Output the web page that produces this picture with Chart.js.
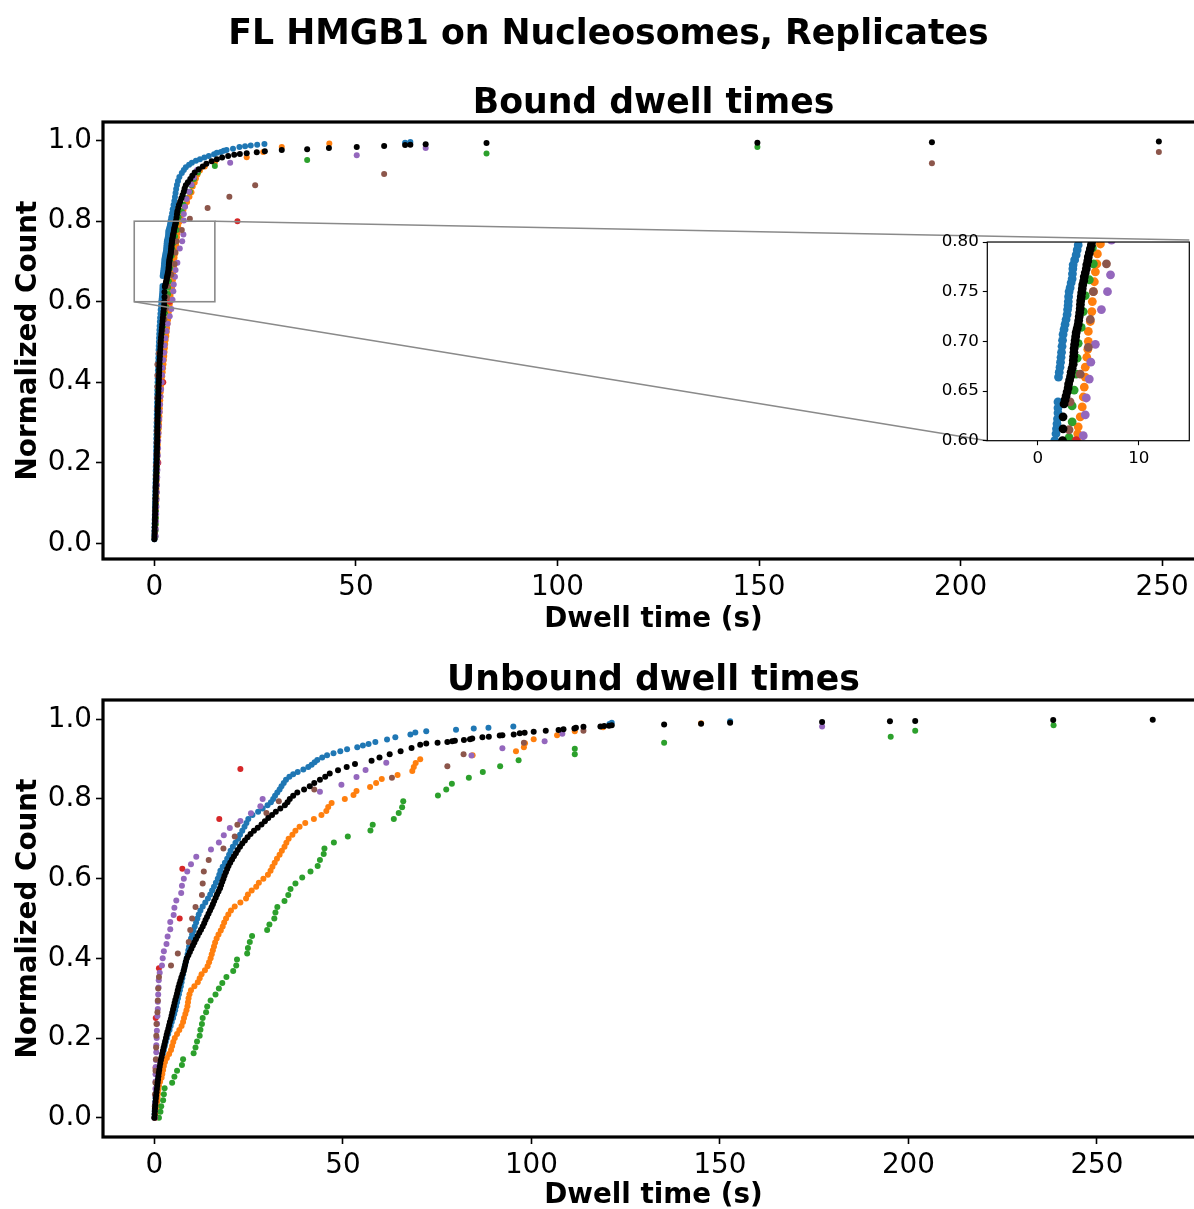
<!DOCTYPE html>
<html>
<head>
<meta charset="utf-8">
<script src="https://cdn.jsdelivr.net/npm/chart.js@4.4.1/dist/chart.umd.min.js"></script>
<style>
html,body{margin:0;padding:0;background:#fff;overflow:hidden;}
#page{position:relative;width:1194px;height:1209px;overflow:hidden;background:#fff;}
canvas{position:absolute;}
</style>
</head>
<body>
<div id="page">
<canvas id="c1" width="1210" height="640" style="left:0;top:0;"></canvas>
<canvas id="c2" width="1210" height="569" style="left:0;top:640px;"></canvas>
<canvas id="c3" width="264" height="247" style="left:930px;top:228px;"></canvas>
</div>
<script>
// ---------------- DATA ----------------
const seriesNames = ['Replicate 1','Replicate 2','Replicate 3','Replicate 4','Replicate 5','Replicate 6','All'];
const seriesColors = ['#1f77b4','#ff7f0e','#2ca02c','#d62728','#9467bd','#8c564b','#000000'];
const xTickValues = [0,50,100,150,200,250];
const yTickValues = [0,0.2,0.4,0.6,0.8,1.0];
const insetXTicks = [0,10];
const insetYTicks = [0.60,0.65,0.70,0.75,0.80];
const insetXRange = [-5,15];
const insetYRange = [0.6,0.8];

// Bound dwell times [dwell time (s), normalized count]
const boundBlue = [[0.0,0.010],[0.0,0.020],[0.02,0.030],[0.04,0.040],[0.06,0.050],[0.08,0.060],[0.1,0.070],[0.12,0.080],[0.14,0.090],[0.16,0.100],[0.18,0.110],[0.2,0.120],[0.22,0.130],[0.24,0.140],[0.26,0.150],[0.28,0.160],[0.3,0.170],[0.32,0.180],[0.34,0.190],[0.36,0.200],[0.38,0.210],[0.4,0.220],[0.42,0.230],[0.44,0.240],[0.46,0.250],[0.48,0.260],[0.5,0.270],[0.52,0.280],[0.54,0.290],[0.56,0.300],[0.58,0.310],[0.6,0.320],[0.62,0.330],[0.64,0.340],[0.66,0.350],[0.68,0.360],[0.7,0.370],[0.73,0.380],[0.76,0.390],[0.79,0.400],[0.82,0.410],[0.85,0.420],[0.88,0.430],[0.91,0.440],[0.94,0.450],[0.97,0.460],[1.0,0.470],[1.04,0.480],[1.08,0.490],[1.12,0.500],[1.16,0.510],[1.2,0.520],[1.25,0.530],[1.3,0.540],[1.36,0.550],[1.42,0.560],[1.5,0.570],[1.56,0.580],[1.62,0.590],[1.68,0.600],[1.8,0.607],[1.85,0.612],[1.9,0.617],[1.95,0.622],[2.0,0.628],[2.0,0.633],[2.0,0.639],[2.05,0.664],[2.12,0.669],[2.2,0.674],[2.25,0.679],[2.3,0.684],[2.35,0.689],[2.4,0.695],[2.45,0.701],[2.5,0.707],[2.6,0.712],[2.7,0.717],[2.8,0.722],[2.9,0.727],[2.95,0.732],[3.0,0.736],[3.02,0.740],[3.05,0.745],[3.1,0.750],[3.2,0.754],[3.3,0.759],[3.4,0.763],[3.43,0.768],[3.47,0.773],[3.5,0.777],[3.65,0.782],[3.8,0.787],[3.9,0.792],[4.0,0.797],[4.05,0.802],[4.2,0.810],[4.4,0.820],[4.55,0.830],[4.75,0.840],[4.95,0.850],[5.1,0.860],[5.25,0.870],[5.4,0.880],[5.6,0.890],[5.85,0.900],[6.2,0.910],[6.8,0.920],[7.3,0.927],[7.8,0.934],[8.6,0.940],[9.3,0.945],[10.3,0.950],[11.3,0.954],[12.4,0.958],[13.5,0.962],[14.8,0.966],[15.5,0.970],[16.5,0.972],[17.2,0.975],[17.9,0.977],[19.5,0.980],[21.1,0.984],[22.5,0.986],[23.9,0.988],[25.5,0.990],[27.3,0.992],[62.2,0.995],[63.5,0.997]];
const boundOrange = [[0.1,0.015],[0.15,0.025],[0.2,0.035],[0.25,0.045],[0.3,0.055],[0.33,0.065],[0.36,0.075],[0.4,0.085],[0.42,0.095],[0.45,0.105],[0.48,0.115],[0.5,0.125],[0.52,0.135],[0.54,0.145],[0.56,0.155],[0.58,0.165],[0.6,0.175],[0.63,0.185],[0.66,0.195],[0.7,0.205],[0.73,0.215],[0.76,0.225],[0.8,0.235],[0.85,0.245],[0.9,0.255],[0.97,0.265],[1.03,0.275],[1.1,0.285],[1.15,0.295],[1.2,0.305],[1.25,0.315],[1.3,0.325],[1.35,0.335],[1.4,0.345],[1.45,0.355],[1.5,0.365],[1.55,0.375],[1.65,0.385],[1.75,0.395],[1.85,0.405],[1.95,0.415],[2.05,0.425],[2.15,0.435],[2.25,0.445],[2.35,0.455],[2.45,0.465],[2.52,0.475],[2.6,0.485],[2.68,0.495],[2.8,0.505],[2.95,0.515],[3.05,0.525],[3.15,0.535],[3.25,0.545],[3.4,0.555],[3.5,0.565],[3.6,0.575],[3.7,0.585],[3.8,0.593],[3.9,0.600],[3.95,0.607],[4.0,0.614],[4.2,0.624],[4.4,0.634],[4.5,0.644],[4.6,0.654],[4.7,0.664],[4.7,0.674],[4.85,0.684],[4.95,0.692],[5.0,0.700],[5.0,0.710],[5.2,0.720],[5.35,0.730],[5.4,0.740],[5.5,0.750],[5.6,0.760],[5.7,0.770],[5.85,0.778],[5.9,0.788],[6.2,0.798],[6.5,0.808],[6.85,0.818],[7.2,0.828],[7.6,0.838],[8.1,0.848],[8.7,0.861],[9.2,0.872],[9.5,0.886],[10.0,0.896],[10.3,0.906],[10.7,0.916],[11.3,0.926],[12.5,0.936],[15.0,0.946],[22.9,0.959],[27.0,0.972],[31.6,0.984],[43.4,0.993]];
const boundGreen = [[0.25,0.016],[0.3,0.032],[0.35,0.048],[0.38,0.063],[0.4,0.079],[0.42,0.095],[0.45,0.111],[0.5,0.127],[0.52,0.143],[0.55,0.159],[0.6,0.175],[0.63,0.190],[0.68,0.206],[0.7,0.222],[0.74,0.238],[0.78,0.254],[0.8,0.270],[0.83,0.286],[0.86,0.302],[0.9,0.317],[0.92,0.333],[0.95,0.349],[0.97,0.365],[1.0,0.381],[1.05,0.397],[1.15,0.413],[1.25,0.429],[1.35,0.444],[1.5,0.460],[1.6,0.476],[1.75,0.492],[1.9,0.508],[2.05,0.524],[2.2,0.540],[2.45,0.556],[2.65,0.571],[2.9,0.587],[3.1,0.603],[3.4,0.619],[3.4,0.635],[3.6,0.651],[3.8,0.667],[3.9,0.683],[4.0,0.698],[4.3,0.714],[4.5,0.730],[4.7,0.746],[5.1,0.762],[5.5,0.778],[5.4,0.794],[6.0,0.810],[6.8,0.825],[7.2,0.841],[7.8,0.857],[8.8,0.873],[9.2,0.889],[9.8,0.905],[10.8,0.921],[15.0,0.937],[37.9,0.952],[82.4,0.968],[149.6,0.984]];
const boundRed = [[0.97,0.2],[2.2,0.4],[3.8,0.6],[20.6,0.8]];
const boundPurple = [[0.3,0.018],[0.35,0.036],[0.4,0.055],[0.45,0.073],[0.5,0.091],[0.55,0.109],[0.6,0.127],[0.65,0.145],[0.7,0.164],[0.75,0.182],[0.8,0.200],[0.85,0.218],[0.9,0.236],[0.95,0.255],[1.0,0.273],[1.1,0.291],[1.2,0.309],[1.3,0.327],[1.4,0.345],[1.5,0.364],[1.65,0.382],[1.8,0.400],[1.9,0.418],[2.0,0.436],[2.2,0.455],[2.4,0.473],[2.5,0.491],[2.7,0.509],[3.0,0.527],[3.3,0.545],[3.8,0.564],[4.2,0.582],[4.5,0.605],[4.7,0.626],[4.8,0.643],[5.1,0.662],[5.25,0.679],[5.7,0.697],[6.3,0.732],[6.9,0.750],[7.2,0.767],[7.3,0.802],[7.3,0.818],[7.6,0.836],[8.0,0.855],[8.6,0.873],[9.2,0.891],[9.8,0.909],[10.6,0.927],[18.8,0.945],[50.2,0.964],[67.3,0.982]];
const boundBrown = [[0.1,0.028],[0.15,0.056],[0.2,0.083],[0.25,0.111],[0.3,0.139],[0.35,0.167],[0.4,0.194],[0.5,0.222],[0.56,0.250],[0.62,0.278],[0.66,0.306],[0.7,0.333],[0.73,0.361],[0.75,0.389],[0.75,0.417],[0.75,0.444],[1.1,0.472],[1.5,0.500],[2.0,0.528],[2.4,0.556],[2.8,0.583],[3.1,0.611],[3.2,0.639],[4.2,0.667],[5.0,0.694],[5.2,0.722],[5.5,0.750],[6.8,0.778],[8.8,0.806],[13.2,0.833],[18.6,0.861],[25.0,0.889],[57.0,0.917],[192.9,0.944],[249.2,0.972]];
const boundBlack = [[0.0,0.010],[0.02,0.016],[0.04,0.024],[0.06,0.032],[0.08,0.040],[0.1,0.048],[0.13,0.056],[0.15,0.064],[0.18,0.072],[0.2,0.080],[0.22,0.088],[0.24,0.096],[0.26,0.104],[0.28,0.112],[0.3,0.120],[0.32,0.128],[0.34,0.136],[0.36,0.144],[0.38,0.152],[0.41,0.160],[0.44,0.168],[0.47,0.176],[0.5,0.184],[0.53,0.192],[0.56,0.200],[0.58,0.208],[0.6,0.216],[0.62,0.224],[0.64,0.232],[0.66,0.240],[0.68,0.248],[0.7,0.256],[0.71,0.264],[0.72,0.272],[0.73,0.280],[0.75,0.288],[0.77,0.296],[0.79,0.304],[0.81,0.312],[0.83,0.320],[0.85,0.328],[0.87,0.336],[0.89,0.344],[0.92,0.352],[0.95,0.360],[0.98,0.368],[1.0,0.376],[1.03,0.384],[1.06,0.392],[1.09,0.400],[1.12,0.408],[1.15,0.416],[1.18,0.424],[1.2,0.432],[1.22,0.440],[1.25,0.448],[1.3,0.456],[1.35,0.464],[1.4,0.472],[1.45,0.480],[1.5,0.488],[1.55,0.496],[1.6,0.504],[1.65,0.512],[1.72,0.520],[1.8,0.528],[1.88,0.536],[1.95,0.544],[2.02,0.552],[2.1,0.560],[2.18,0.568],[2.26,0.576],[2.34,0.584],[2.42,0.592],[2.45,0.600],[2.5,0.612],[2.5,0.624],[2.6,0.637],[2.7,0.641],[2.8,0.645],[2.9,0.649],[3.0,0.653],[3.05,0.657],[3.15,0.661],[3.25,0.665],[3.3,0.669],[3.4,0.673],[3.5,0.677],[3.52,0.681],[3.55,0.685],[3.58,0.689],[3.6,0.693],[3.65,0.697],[3.7,0.701],[3.75,0.705],[3.8,0.709],[3.9,0.713],[4.0,0.717],[4.05,0.721],[4.1,0.725],[4.15,0.729],[4.2,0.733],[4.22,0.737],[4.25,0.741],[4.3,0.745],[4.35,0.749],[4.4,0.753],[4.45,0.757],[4.55,0.761],[4.6,0.765],[4.7,0.769],[4.8,0.773],[4.85,0.777],[4.95,0.781],[5.0,0.785],[5.1,0.789],[5.2,0.793],[5.3,0.797],[5.35,0.801],[5.5,0.809],[5.6,0.817],[5.7,0.825],[5.9,0.833],[6.1,0.841],[6.4,0.849],[6.7,0.857],[7.0,0.865],[7.3,0.873],[7.5,0.881],[7.8,0.889],[8.3,0.897],[8.9,0.905],[9.4,0.913],[10.0,0.921],[11.0,0.929],[12.0,0.936],[12.9,0.943],[14.2,0.949],[15.5,0.954],[16.8,0.958],[18.3,0.962],[19.8,0.965],[21.2,0.967],[22.9,0.969],[25.4,0.971],[27.4,0.974],[31.6,0.977],[37.9,0.979],[43.3,0.982],[50.2,0.984],[57.0,0.987],[62.2,0.989],[63.5,0.990],[67.3,0.991],[82.4,0.994],[149.6,0.995],[192.9,0.996],[249.2,0.998]];

// Unbound dwell times [dwell time (s), normalized count]
const unboundBlue = [[0.0,0.000],[0.05,0.010],[0.1,0.020],[0.15,0.030],[0.22,0.040],[0.3,0.050],[0.42,0.060],[0.55,0.070],[0.7,0.080],[0.85,0.090],[1.0,0.100],[1.2,0.110],[1.4,0.120],[1.6,0.130],[1.8,0.140],[2.0,0.150],[2.25,0.160],[2.5,0.170],[2.75,0.180],[3.0,0.190],[3.3,0.200],[3.65,0.210],[4.0,0.220],[4.3,0.230],[4.6,0.240],[4.95,0.250],[5.25,0.260],[5.5,0.270],[5.75,0.280],[6.0,0.290],[6.25,0.300],[6.5,0.310],[6.75,0.320],[7.0,0.330],[7.2,0.340],[7.4,0.350],[7.6,0.360],[7.8,0.370],[8.05,0.380],[8.3,0.390],[8.55,0.400],[8.8,0.410],[9.0,0.420],[9.2,0.430],[9.4,0.440],[9.7,0.450],[10.0,0.460],[10.35,0.470],[10.7,0.480],[11.05,0.490],[11.4,0.500],[11.75,0.510],[12.2,0.520],[12.8,0.530],[13.5,0.540],[14.2,0.550],[14.8,0.560],[15.3,0.570],[15.8,0.580],[16.3,0.590],[16.8,0.600],[17.2,0.610],[17.5,0.620],[18.1,0.630],[18.7,0.640],[19.3,0.650],[19.8,0.660],[20.2,0.670],[20.8,0.680],[21.5,0.690],[22.2,0.700],[22.7,0.710],[23.3,0.720],[23.9,0.730],[24.4,0.740],[24.9,0.750],[26.0,0.760],[27.5,0.768],[28.7,0.776],[30.0,0.784],[30.9,0.792],[31.5,0.800],[32.0,0.808],[32.6,0.816],[33.2,0.824],[33.7,0.832],[34.3,0.840],[34.9,0.848],[35.8,0.856],[36.8,0.862],[38.0,0.868],[39.5,0.874],[40.8,0.880],[41.7,0.886],[42.5,0.892],[43.2,0.898],[44.5,0.904],[45.8,0.910],[47.5,0.915],[49.3,0.920],[51.1,0.925],[53.8,0.930],[55.3,0.934],[56.8,0.938],[58.6,0.943],[61.7,0.949],[63.9,0.955],[67.9,0.962],[69.2,0.967],[72.1,0.970],[80.0,0.974],[84.7,0.977],[88.6,0.979],[95.2,0.982],[120.7,0.988],[121.3,0.991],[152.7,0.995]];
const unboundOrange = [[0.2,0.00],[0.3,0.01],[0.45,0.02],[0.6,0.03],[0.75,0.04],[0.85,0.05],[0.95,0.06],[1.05,0.07],[1.2,0.08],[1.5,0.09],[1.9,0.10],[2.1,0.11],[2.3,0.12],[2.5,0.13],[2.8,0.14],[3.3,0.15],[3.9,0.16],[4.4,0.17],[4.7,0.18],[5.0,0.19],[5.4,0.20],[6.0,0.21],[6.6,0.22],[7.2,0.23],[7.6,0.24],[7.85,0.25],[8.2,0.26],[8.5,0.27],[8.75,0.28],[8.9,0.29],[9.05,0.30],[9.3,0.31],[9.7,0.32],[10.6,0.33],[11.5,0.34],[12.0,0.35],[12.5,0.36],[13.4,0.37],[14.1,0.38],[14.5,0.39],[14.9,0.40],[15.2,0.41],[15.5,0.42],[15.8,0.43],[16.1,0.44],[16.5,0.45],[17.0,0.46],[17.6,0.47],[18.1,0.48],[18.5,0.49],[19.0,0.50],[19.6,0.51],[20.3,0.52],[21.3,0.53],[22.8,0.54],[24.3,0.55],[24.8,0.56],[25.8,0.57],[27.0,0.58],[27.7,0.59],[28.9,0.60],[30.1,0.61],[30.8,0.62],[31.3,0.63],[31.9,0.64],[32.5,0.65],[33.2,0.66],[33.8,0.67],[34.5,0.68],[35.0,0.69],[35.6,0.70],[36.6,0.71],[37.4,0.72],[38.5,0.73],[40.0,0.74],[42.3,0.75],[44.3,0.76],[45.6,0.77],[46.1,0.78],[47.0,0.79],[50.5,0.80],[52.8,0.81],[53.6,0.82],[57.2,0.83],[58.8,0.84],[60.3,0.85],[64.5,0.86],[68.4,0.87],[68.8,0.88],[69.3,0.89],[70.5,0.90],[84.4,0.91],[95.9,0.92],[98.0,0.93],[98.3,0.94],[100.6,0.95],[106.8,0.96],[111.5,0.97],[119.0,0.98],[145.0,0.99]];
const unboundGreen = [[1.2,0.000],[1.6,0.015],[1.8,0.029],[2.3,0.044],[2.5,0.059],[2.7,0.074],[4.7,0.088],[5.3,0.103],[6.0,0.118],[7.3,0.132],[7.6,0.147],[10.4,0.162],[10.9,0.176],[11.3,0.191],[12.0,0.206],[12.2,0.221],[12.6,0.235],[12.8,0.250],[13.7,0.265],[14.0,0.279],[14.9,0.294],[16.2,0.309],[17.1,0.324],[18.0,0.338],[19.1,0.353],[20.9,0.368],[21.7,0.382],[21.9,0.397],[24.6,0.412],[24.8,0.426],[25.3,0.441],[25.9,0.456],[29.9,0.471],[30.5,0.485],[31.8,0.500],[32.1,0.515],[32.6,0.529],[34.5,0.544],[35.5,0.559],[36.1,0.574],[37.4,0.588],[39.2,0.603],[41.4,0.618],[43.3,0.632],[43.9,0.647],[44.9,0.662],[45.1,0.676],[47.6,0.691],[51.3,0.706],[57.3,0.721],[57.9,0.735],[63.5,0.750],[64.8,0.765],[65.7,0.779],[66.0,0.794],[75.2,0.809],[77.4,0.824],[78.9,0.838],[83.4,0.853],[87.1,0.868],[91.7,0.882],[96.6,0.897],[111.5,0.912],[111.5,0.926],[135.2,0.941],[195.3,0.956],[201.8,0.971],[238.5,0.985]];
const unboundRed = [[0.1,0.000],[0.3,0.125],[0.35,0.250],[1.2,0.375],[6.7,0.500],[7.4,0.625],[17.2,0.750],[22.8,0.875]];
const unboundPurple = [[0.1,0.000],[0.15,0.018],[0.2,0.036],[0.25,0.055],[0.27,0.073],[0.3,0.091],[0.3,0.109],[0.35,0.127],[0.4,0.145],[0.5,0.164],[0.5,0.182],[0.6,0.200],[0.65,0.218],[0.7,0.236],[0.8,0.255],[0.9,0.273],[0.9,0.291],[1.0,0.309],[1.1,0.327],[1.15,0.345],[1.4,0.364],[2.0,0.382],[2.2,0.400],[2.5,0.418],[3.2,0.436],[3.5,0.455],[4.2,0.473],[4.2,0.491],[5.1,0.509],[5.3,0.527],[5.8,0.545],[7.1,0.564],[7.3,0.582],[7.8,0.600],[8.7,0.618],[9.7,0.636],[11.1,0.655],[15.0,0.673],[17.1,0.691],[18.4,0.709],[20.0,0.727],[22.8,0.745],[25.6,0.764],[28.1,0.782],[28.7,0.800],[43.9,0.818],[49.6,0.836],[53.6,0.855],[56.0,0.873],[61.5,0.891],[84.1,0.909],[92.3,0.927],[103.5,0.945],[108.2,0.964],[177.1,0.982]];
const unboundBrown = [[0.0,0.000],[0.1,0.029],[0.15,0.059],[0.27,0.088],[0.3,0.118],[0.4,0.147],[0.45,0.176],[0.5,0.206],[0.55,0.235],[0.8,0.265],[0.9,0.294],[1.0,0.324],[1.2,0.353],[4.4,0.382],[6.2,0.412],[9.1,0.441],[9.5,0.471],[10.0,0.500],[10.9,0.529],[12.6,0.559],[12.8,0.588],[13.1,0.618],[14.4,0.647],[18.3,0.676],[21.3,0.706],[22.0,0.735],[29.7,0.765],[33.0,0.794],[42.4,0.824],[63.0,0.853],[77.7,0.882],[82.0,0.912],[98.0,0.941],[113.8,0.971]];
const unboundBlack = [[0.0,0.000],[0.05,0.008],[0.1,0.016],[0.15,0.024],[0.22,0.032],[0.3,0.040],[0.37,0.048],[0.45,0.056],[0.55,0.064],[0.65,0.072],[0.75,0.080],[0.85,0.088],[0.95,0.096],[1.05,0.104],[1.15,0.112],[1.28,0.120],[1.4,0.128],[1.55,0.136],[1.7,0.144],[1.88,0.152],[2.05,0.160],[2.25,0.168],[2.45,0.176],[2.65,0.184],[2.85,0.192],[3.05,0.200],[3.25,0.208],[3.45,0.216],[3.7,0.224],[3.9,0.232],[4.1,0.240],[4.35,0.248],[4.55,0.256],[4.75,0.264],[4.95,0.272],[5.15,0.280],[5.35,0.288],[5.55,0.296],[5.8,0.304],[6.0,0.312],[6.2,0.320],[6.4,0.328],[6.65,0.336],[6.9,0.344],[7.15,0.352],[7.45,0.360],[7.75,0.368],[7.95,0.376],[8.15,0.384],[8.35,0.392],[8.6,0.400],[9.0,0.408],[9.4,0.416],[9.8,0.424],[10.2,0.432],[10.6,0.440],[11.0,0.448],[11.45,0.456],[11.9,0.464],[12.35,0.472],[12.8,0.480],[13.2,0.488],[13.55,0.496],[13.95,0.504],[14.35,0.512],[14.75,0.520],[15.15,0.528],[15.5,0.536],[15.85,0.544],[16.25,0.552],[16.6,0.560],[17.0,0.568],[17.4,0.576],[17.7,0.584],[18.0,0.592],[18.3,0.600],[18.6,0.608],[18.95,0.616],[19.3,0.624],[19.65,0.632],[20.1,0.640],[20.6,0.648],[21.1,0.656],[21.6,0.664],[22.1,0.672],[22.7,0.680],[23.3,0.688],[24.0,0.696],[24.7,0.704],[25.5,0.712],[26.4,0.720],[27.4,0.728],[28.4,0.736],[29.3,0.744],[30.2,0.752],[31.2,0.760],[32.2,0.768],[33.4,0.776],[34.6,0.784],[35.3,0.792],[35.9,0.800],[36.8,0.808],[37.9,0.816],[39.7,0.824],[41.2,0.832],[42.4,0.840],[43.9,0.848],[45.3,0.856],[46.5,0.864],[48.7,0.872],[51.0,0.880],[53.2,0.888],[57.6,0.896],[59.7,0.904],[62.4,0.912],[65.3,0.920],[68.2,0.928],[70.5,0.936],[72.1,0.939],[75.1,0.941],[77.7,0.943],[79.0,0.945],[79.7,0.946],[82.1,0.948],[83.7,0.950],[84.3,0.952],[87.0,0.955],[88.7,0.956],[91.6,0.959],[92.3,0.960],[95.3,0.962],[96.9,0.965],[98.2,0.966],[100.6,0.969],[103.8,0.971],[107.2,0.973],[108.5,0.975],[111.4,0.977],[111.8,0.979],[113.8,0.981],[118.3,0.982],[119.3,0.983],[120.6,0.984],[121.3,0.985],[135.2,0.987],[145.0,0.989],[152.7,0.991],[177.1,0.993],[195.1,0.995],[201.8,0.996],[238.4,0.998],[264.8,0.999]];

const boundSeries = [boundBlue, boundOrange, boundGreen, boundRed, boundPurple, boundBrown, boundBlack];
const unboundSeries = [unboundBlue, unboundOrange, unboundGreen, unboundRed, unboundPurple, unboundBrown, unboundBlack];

// ---------------- STYLE / LAYOUT ----------------
const FONT = 'DejaVu Sans';
const TICK_SIZE = 27.8, LABEL_SIZE = 27.8, TITLE_SIZE = 34.7, INSET_TICK_SIZE = 16.7;
const MAIN_RADIUS = 3.0, INSET_RADIUS = 4.4;
const INSET = {left: 987.3, top: 240, right: 1189.3, bottom: 440.7}; // page px of inset axes (canvas c1 is at page 0,0)
Chart.defaults.font.family = FONT;
Chart.defaults.color = '#000';

function makeDatasets(series, radius) {
  return series.map((pts, i) => ({
    label: seriesNames[i],
    data: pts.map(p => ({x: p[0], y: p[1]})),
    backgroundColor: seriesColors[i],
    borderColor: seriesColors[i],
    pointRadius: radius,
    pointHoverRadius: radius,
    pointBorderWidth: 0,
    showLine: false,
    clip: 0,
    order: series.length - 1 - i
  }));
}

const decor = {
  id: 'decor',
  afterDatasetsDraw(chart, args, o) {
    const {ctx, chartArea: a, scales} = chart;
    ctx.save();
    if (o.indicator) {
      const xs = scales.x, ys = scales.y;
      const x1 = xs.getPixelForValue(insetXRange[0]), x2 = xs.getPixelForValue(insetXRange[1]);
      const y1 = ys.getPixelForValue(insetYRange[1]), y2 = ys.getPixelForValue(insetYRange[0]);
      ctx.strokeStyle = '#8a8a8a';
      ctx.lineWidth = 1.6;
      ctx.strokeRect(x1, y1, x2 - x1, y2 - y1);
      ctx.beginPath();
      ctx.moveTo(x2, y1); ctx.lineTo(INSET.right, INSET.top);
      ctx.moveTo(x1, y2); ctx.lineTo(INSET.left, INSET.bottom);
      ctx.stroke();
    }
    ctx.strokeStyle = '#000';
    ctx.lineWidth = 3.2;
    ctx.strokeRect(a.left, a.top, a.right - a.left, a.bottom - a.top);
    ctx.fillStyle = '#000';
    ctx.textAlign = 'center';
    ctx.textBaseline = 'alphabetic';
    ctx.font = 'bold ' + TITLE_SIZE + 'px "' + FONT + '"';
    ctx.fillText(o.title, (a.left + a.right) / 2, a.top - o.titleGap);
    if (o.suptitle) ctx.fillText(o.suptitle, o.supX, o.supY);
    ctx.restore();
  }
};

function mainScales(xr, yr, xHeight, xTitlePad) {
  return {
    x: {
      type: 'linear', bounds: 'data', min: xr[0], max: xr[1],
      afterBuildTicks: s => { s.ticks = xTickValues.map(v => ({value: v})); },
      afterFit: s => { s.height = xHeight; },
      ticks: {autoSkip: false, maxRotation: 0, minRotation: 0, padding: 5, color: '#000',
        font: {family: FONT, size: TICK_SIZE}, callback: v => String(v)},
      grid: {drawOnChartArea: false, drawTicks: true, tickLength: 7, tickWidth: 1.6, tickColor: '#000', color: '#000'},
      border: {display: false},
      title: {display: true, text: 'Dwell time (s)', color: '#000',
        font: {family: FONT, size: LABEL_SIZE, weight: 'bold'}, padding: {top: 0, bottom: xTitlePad}}
    },
    y: {
      type: 'linear', bounds: 'data', min: yr[0], max: yr[1],
      afterBuildTicks: s => { s.ticks = yTickValues.map(v => ({value: v})); },
      afterFit: s => { s.width = 103; },
      ticks: {autoSkip: false, padding: 4, color: '#000',
        font: {family: FONT, size: TICK_SIZE}, callback: v => Number(v).toFixed(1)},
      grid: {drawOnChartArea: false, drawTicks: true, tickLength: 7, tickWidth: 1.6, tickColor: '#000', color: '#000'},
      border: {display: false},
      title: {display: true, text: 'Normalized Count', color: '#000',
        font: {family: FONT, size: LABEL_SIZE, weight: 'bold'}, padding: {top: 12, bottom: 0}}
    }
  };
}

function baseOptions(padTop, scales, decorOpts) {
  return {
    responsive: false, animation: false, devicePixelRatio: 1, events: [],
    layout: {padding: {top: padTop, right: 6, bottom: 0, left: 0}},
    plugins: {legend: {display: false}, tooltip: {enabled: false}, title: {display: false}, decor: decorOpts},
    scales: scales
  };
}

new Chart(document.getElementById('c1'), {
  type: 'scatter',
  data: {datasets: makeDatasets(boundSeries, MAIN_RADIUS)},
  options: baseOptions(122, mainScales([-12.75, 260.4], [-0.039, 1.0464], 81, 3.3),
    {title: 'Bound dwell times', titleGap: 9, suptitle: 'FL HMGB1 on Nucleosomes, Replicates', supX: 608.5, supY: 44, indicator: true}),
  plugins: [decor]
});

new Chart(document.getElementById('c2'), {
  type: 'scatter',
  data: {datasets: makeDatasets(unboundSeries, MAIN_RADIUS)},
  options: baseOptions(60, mainScales([-13.64, 278.4], [-0.0484, 1.0484], 72, -3),
    {title: 'Unbound dwell times', titleGap: 10.5, indicator: false}),
  plugins: [decor]
});

// Inset (zoom of the bound panel)
const insetDecor = {
  id: 'insetDecor',
  beforeDraw(chart) {
    const {ctx, chartArea: a} = chart;
    ctx.save(); ctx.fillStyle = '#fff';
    ctx.fillRect(a.left, a.top, a.right - a.left, a.bottom - a.top);
    ctx.restore();
  },
  afterDatasetsDraw(chart) {
    const {ctx, chartArea: a} = chart;
    ctx.save(); ctx.strokeStyle = '#000'; ctx.lineWidth = 1.2;
    ctx.strokeRect(a.left, a.top, a.right - a.left, a.bottom - a.top);
    ctx.restore();
  }
};
const c3Left = 930, c3Top = 228, c3W = 264, c3H = 247;
new Chart(document.getElementById('c3'), {
  type: 'scatter',
  data: {datasets: makeDatasets(boundSeries, INSET_RADIUS)},
  options: {
    responsive: false, animation: false, devicePixelRatio: 1, events: [],
    layout: {padding: {top: INSET.top - c3Top, right: c3Left + c3W - INSET.right, bottom: 0, left: 0}},
    plugins: {legend: {display: false}, tooltip: {enabled: false}},
    scales: {
      x: {type: 'linear', bounds: 'data', min: insetXRange[0], max: insetXRange[1],
        afterBuildTicks: s => { s.ticks = insetXTicks.map(v => ({value: v})); },
        afterFit: s => { s.height = c3Top + c3H - INSET.bottom; },
        ticks: {autoSkip: false, maxRotation: 0, padding: 3, color: '#000', font: {family: FONT, size: INSET_TICK_SIZE}, callback: v => String(v)},
        grid: {drawOnChartArea: false, drawTicks: true, tickLength: 4.5, tickWidth: 1.1, tickColor: '#000', color: '#000'},
        border: {display: false}},
      y: {type: 'linear', bounds: 'data', min: insetYRange[0], max: insetYRange[1],
        afterBuildTicks: s => { s.ticks = insetYTicks.map(v => ({value: v})); },
        afterFit: s => { s.width = INSET.left - c3Left; },
        ticks: {autoSkip: false, padding: 4, color: '#000', font: {family: FONT, size: INSET_TICK_SIZE}, callback: v => Number(v).toFixed(2)},
        grid: {drawOnChartArea: false, drawTicks: true, tickLength: 4.5, tickWidth: 1.1, tickColor: '#000', color: '#000'},
        border: {display: false}}
    }
  },
  plugins: [insetDecor]
});
</script>
</body>
</html>
